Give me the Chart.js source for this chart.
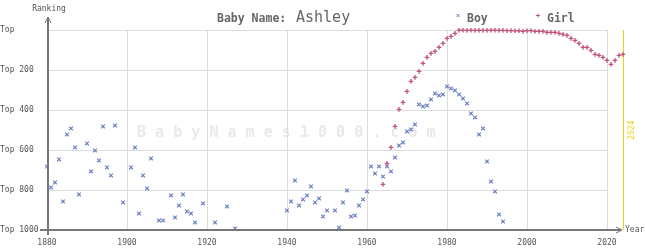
<!DOCTYPE html>
<html>
<head>
<meta charset="utf-8">
<title>Baby Name: Ashley</title>
<script src="https://cdn.jsdelivr.net/npm/chart.js@4.4.1/dist/chart.umd.min.js"></script>
<style>
  html, body { margin: 0; padding: 0; background: #fff; }
  #wrap { width: 645px; height: 250px; }
</style>
</head>
<body>
<div id="wrap"><canvas id="rankChart" width="645" height="250"></canvas></div>
<script>
// Ranking data (lower rank = more popular)
const boyYears = [1880, 1881, 1882, 1883, 1884, 1885, 1886, 1887, 1888, 1890, 1891, 1892, 1893, 1894, 1895, 1896, 1897, 1899,
  1901, 1902, 1903, 1904, 1905, 1906, 1908, 1909, 1911, 1912, 1913, 1914, 1915, 1916, 1917, 1919, 1922, 1925, 1927,
  1940, 1941, 1942, 1943, 1944, 1945, 1946, 1947, 1948, 1949, 1950, 1952, 1953, 1954, 1955, 1956, 1957, 1958, 1959,
  1960, 1961, 1962, 1963, 1964, 1965, 1966, 1967, 1968, 1969, 1970, 1971, 1972, 1973, 1974, 1975, 1976, 1977, 1978, 1979,
  1980, 1981, 1982, 1983, 1984, 1985, 1986, 1987, 1988, 1989, 1990, 1991, 1992, 1993, 1994];
const boyRanks = [683, 787, 762, 647, 857, 522, 492, 587, 822, 567, 707, 602, 652, 482, 687, 727, 477, 862,
  687, 587, 917, 727, 792, 642, 952, 952, 827, 937, 877, 822, 907, 917, 962, 867, 962, 882, 992,
  902, 857, 752, 877, 847, 827, 782, 862, 842, 932, 902, 902, 987, 862, 802, 932, 927, 877, 847,
  807, 682, 717, 682, 732, 682, 707, 637, 577, 562, 507, 497, 472, 372, 382, 377, 347, 317, 327, 322,
  282, 292, 302, 322, 342, 367, 417, 437, 522, 492, 657, 757, 807, 922, 957];

const girlYears = [1964, 1965, 1966, 1967, 1968, 1969, 1970, 1971, 1972, 1973, 1974, 1975, 1976, 1977, 1978, 1979,
  1980, 1981, 1982, 1983, 1984, 1985, 1986, 1987, 1988, 1989, 1990, 1991, 1992, 1993, 1994, 1995, 1996, 1997, 1998, 1999,
  2000, 2001, 2002, 2003, 2004, 2005, 2006, 2007, 2008, 2009, 2010, 2011, 2012, 2013, 2014, 2015, 2016, 2017, 2018, 2019,
  2020, 2021, 2022, 2023, 2024];
const girlRanks = [772, 667, 587, 482, 397, 362, 307, 257, 237, 207, 167, 137, 117, 107, 87, 67,
  42, 32, 17, 1, 1, 2, 1, 2, 2, 2, 2, 1, 1, 2, 2, 3, 3, 4, 4, 7,
  3, 3, 7, 7, 7, 12, 12, 12, 17, 22, 27, 42, 52, 67, 87, 87, 102, 122, 127, 137,
  152, 172, 152, 127, 122];

const xTickYears = [1880, 1900, 1920, 1940, 1960, 1980, 2000, 2020];
const yTickRanks = [0, 200, 400, 600, 800, 1000];
const yTickLabels = ['Top', 'Top 200', 'Top 400', 'Top 600', 'Top 800', 'Top 1000'];
const currentYear = 2024;

const boyColor = '#6b7fc4';
const girlColor = '#c2507d';
const textGray = '#555';
const monoFont = '"DejaVu Sans Mono", "Liberation Mono", monospace';

function toPoints(years, ranks) {
  return years.map((yr, i) => ({ x: yr, y: ranks[i] }));
}

function line(ctx, x1, y1, x2, y2) {
  ctx.beginPath();
  ctx.moveTo(x1, y1);
  ctx.lineTo(x2, y2);
  ctx.stroke();
}

// grid, watermark, axes and the header texts
const chartDecor = {
  id: 'chartDecor',
  beforeDatasetsDraw(chart) {
    const { ctx, scales: { x, y } } = chart;
    const left = x.getPixelForValue(1880);
    const gridRight = x.getPixelForValue(2020);
    const top = y.getPixelForValue(0);
    const bottom = y.getPixelForValue(1000);
    ctx.save();

    // watermark
    ctx.fillStyle = '#e9e9e9';
    ctx.font = 'bold 15px ' + monoFont;
    ctx.textAlign = 'left';
    ctx.textBaseline = 'alphabetic';
    [...'BabyNames1000.com'].forEach((ch, i) => ctx.fillText(ch, 137 + i * 18.1, 137));

    ctx.strokeStyle = '#dcdcdc';
    ctx.lineWidth = 1;
    xTickYears.forEach(yr => {
      const px = Math.round(x.getPixelForValue(yr)) + 0.5;
      line(ctx, px, top, px, bottom);
    });
    yTickRanks.slice(0, -1).forEach(r => {
      const py = Math.round(y.getPixelForValue(r)) + 0.5;
      line(ctx, left, py, gridRight, py);
    });

    // current year marker
    const cx = Math.round(x.getPixelForValue(currentYear)) + 0.5;
    ctx.strokeStyle = '#f2d01a';
    line(ctx, cx, top, cx, bottom);
    ctx.fillStyle = '#f2d01a';
    ctx.font = '8px ' + monoFont;
    ctx.translate(cx + 8, (top + bottom) / 2);
    ctx.rotate(-Math.PI / 2);
    ctx.textAlign = 'center';
    ctx.textBaseline = 'middle';
    ctx.fillText(String(currentYear), 0, 0);
    ctx.restore();
  },
  afterDatasetsDraw(chart) {
    const { ctx, scales: { x, y } } = chart;
    const left = Math.round(x.getPixelForValue(1880));
    const right = Math.round(x.getPixelForValue(currentYear));
    const bottom = Math.round(y.getPixelForValue(1000));
    ctx.save();

    // axes with arrows
    ctx.strokeStyle = '#777';
    ctx.lineWidth = 2;
    line(ctx, left + 1, 17, left + 1, bottom + 5);
    line(ctx, left - 7, bottom, right - 2, bottom);
    ctx.lineWidth = 1;
    line(ctx, left - 2, 23, left + 1, 17);
    line(ctx, left + 4, 23, left + 1, 17);
    line(ctx, right - 7, bottom - 3, right - 1, bottom);
    line(ctx, right - 7, bottom + 3, right - 1, bottom);

    ctx.fillStyle = textGray;
    ctx.font = '8px ' + monoFont;
    ctx.textBaseline = 'middle';
    ctx.textAlign = 'center';
    ctx.fillText('Ranking', left + 2, 9);
    ctx.textAlign = 'left';
    ctx.fillText('Year', right + 2, bottom);

    // title
    ctx.fillStyle = '#666';
    ctx.textBaseline = 'alphabetic';
    ctx.font = 'bold 11.5px ' + monoFont;
    ctx.fillText('Baby Name:', 217, 22);
    ctx.font = '15px ' + monoFont;
    ctx.fillText('Ashley', 296, 22);

    // legend
    ctx.font = 'bold 11.5px ' + monoFont;
    ctx.fillText('Boy', 467, 22);
    ctx.fillText('Girl', 547, 22);
    ctx.lineWidth = 1;
    ctx.strokeStyle = boyColor;
    line(ctx, 456.5, 14, 459.5, 17);
    line(ctx, 456.5, 17, 459.5, 14);
    ctx.strokeStyle = girlColor;
    line(ctx, 536, 15.5, 540, 15.5);
    line(ctx, 538, 13.5, 538, 17.5);
    ctx.restore();
  }
};

const ctx = document.getElementById('rankChart').getContext('2d');
const rankChart = new Chart(ctx, {
  type: 'scatter',
  data: {
    datasets: [{
      label: 'Girl',
      data: toPoints(girlYears, girlRanks),
      pointStyle: 'cross',
      pointRadius: 2.3,
      pointBorderWidth: 1.3,
      pointBorderColor: girlColor,
      pointBackgroundColor: girlColor,
      clip: false
    }, {
      label: 'Boy',
      data: toPoints(boyYears, boyRanks),
      pointStyle: 'crossRot',
      pointRadius: 2.6,
      pointBorderWidth: 1.1,
      pointBorderColor: boyColor,
      pointBackgroundColor: boyColor,
      clip: false
    }]
  },
  options: {
    responsive: false,
    animation: false,
    events: [],
    layout: {
      padding: { top: 30, right: 22, left: 0, bottom: 0 }
    },
    plugins: {
      legend: { display: false },
      title: { display: false },
      tooltip: { enabled: false }
    },
    scales: {
      x: {
        type: 'linear',
        min: 1880,
        max: currentYear,
        afterFit: (scale) => { scale.height = 20; },
        afterBuildTicks: (scale) => { scale.ticks = xTickYears.map(v => ({ value: v })); },
        grid: { display: false, drawTicks: false },
        border: { display: false },
        ticks: {
          autoSkip: false,
          maxRotation: 0,
          padding: 8,
          color: textGray,
          font: { family: monoFont, size: 8 },
          callback: (v) => String(v)
        }
      },
      y: {
        type: 'linear',
        min: 0,
        max: 1000,
        reverse: true,
        afterFit: (scale) => { scale.width = 47; },
        afterBuildTicks: (scale) => { scale.ticks = yTickRanks.map(v => ({ value: v })); },
        grid: { display: false, drawTicks: false },
        border: { display: false },
        ticks: {
          crossAlign: 'far',
          color: textGray,
          font: { family: monoFont, size: 8 },
          callback: (v, i) => yTickLabels[i]
        }
      }
    }
  },
  plugins: [chartDecor]
});
</script>
</body>
</html>
